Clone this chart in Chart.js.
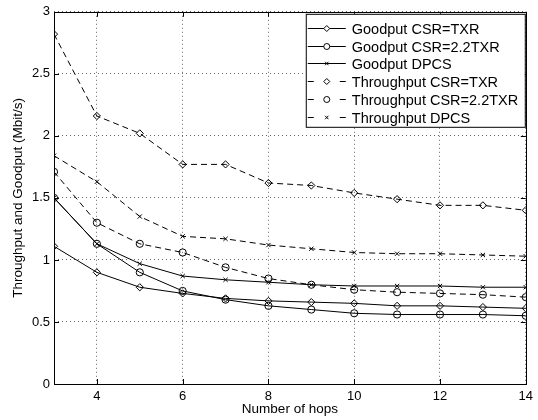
<!DOCTYPE html>
<html>
<head>
    <title>Throughput and Goodput vs hops</title>
    <script src="https://cdn.jsdelivr.net/npm/chart.js@4.4.1/dist/chart.umd.min.js"></script>
    <style>
        body { margin: 0; background: #fff; }
        canvas { display: block; }
    </style>
</head>
<body>
    <canvas id="hopsChart" width="538" height="420"></canvas>

    <script>
        const hops = [3, 4, 5, 6, 7, 8, 9, 10, 11, 12, 13, 14];
        const xTicks = [4, 6, 8, 10, 12, 14];
        const yTicks = [0, 0.5, 1, 1.5, 2, 2.5, 3];

        const goodputTxr   = [1.11, 0.90, 0.78, 0.73, 0.69, 0.67, 0.66, 0.65, 0.63, 0.63, 0.62, 0.61];
        const goodput22Txr = [1.50, 1.13, 0.90, 0.75, 0.68, 0.63, 0.60, 0.57, 0.56, 0.56, 0.56, 0.55];
        const goodputDpcs  = [1.50, 1.13, 0.97, 0.87, 0.84, 0.82, 0.80, 0.79, 0.79, 0.79, 0.78, 0.78];
        const thrTxr       = [2.82, 2.16, 2.02, 1.77, 1.77, 1.62, 1.60, 1.54, 1.49, 1.44, 1.44, 1.40];
        const thr22Txr     = [1.71, 1.30, 1.13, 1.06, 0.94, 0.85, 0.80, 0.76, 0.74, 0.73, 0.72, 0.70];
        const thrDpcs      = [1.84, 1.63, 1.35, 1.19, 1.17, 1.12, 1.09, 1.06, 1.05, 1.05, 1.04, 1.03];

        const FONT = '"Liberation Sans", Arial, sans-serif';
        const DASH = [6, 4];

        function series(label, values, marker, dashed) {
            return {
                label: label,
                data: hops.map((h, i) => ({ x: h, y: values[i] })),
                borderColor: '#000',
                borderWidth: 1,
                borderDash: dashed ? DASH : [],
                pointStyle: marker,
                pointRadius: marker === 'crossRot' ? 3 : 3.6,
                pointBorderWidth: 1,
                pointBorderColor: '#000',
                pointBackgroundColor: 'rgba(0,0,0,0)',
                tension: 0
            };
        }

        // axes box with inward tick marks
        const boxPlugin = {
            id: 'box',
            afterDatasetsDraw(chart) {
                const { ctx, chartArea: a, scales } = chart;
                ctx.save();
                ctx.strokeStyle = '#000';
                ctx.lineWidth = 1;
                ctx.beginPath();
                xTicks.forEach(v => {
                    const px = Math.round(scales.x.getPixelForValue(v)) + 0.5;
                    ctx.moveTo(px, a.bottom); ctx.lineTo(px, a.bottom - 5);
                    ctx.moveTo(px, a.top); ctx.lineTo(px, a.top + 5);
                });
                yTicks.forEach(v => {
                    const py = Math.round(scales.y.getPixelForValue(v)) + 0.5;
                    ctx.moveTo(a.left, py); ctx.lineTo(a.left + 5, py);
                    ctx.moveTo(a.right, py); ctx.lineTo(a.right - 5, py);
                });
                ctx.stroke();
                ctx.strokeRect(Math.round(a.left) + 0.5, Math.round(a.top) + 0.5,
                    Math.round(a.right - a.left), Math.round(a.bottom - a.top));
                ctx.restore();
            }
        };

        // MATLAB-like legend box in the upper right corner
        const legendPlugin = {
            id: 'boxLegend',
            afterDraw(chart) {
                const { ctx, chartArea: a } = chart;
                const sets = chart.data.datasets;
                const right = a.right - 1, top = a.top + 2;
                const left = right - 219, rowH = 17.8;
                const height = 113;
                ctx.save();
                ctx.fillStyle = '#fff';
                ctx.fillRect(left, top, right - left, height);
                ctx.strokeStyle = '#000';
                ctx.lineWidth = 1;
                ctx.strokeRect(left + 0.5, top + 0.5, right - left, height);
                ctx.font = '14.5px ' + FONT;
                ctx.textBaseline = 'middle';
                sets.forEach((ds, i) => {
                    const cy = Math.round(top + 14 + i * rowH) + 0.5;
                    const x0 = left + 2, x1 = left + 40, xm = (x0 + x1) / 2;
                    ctx.beginPath();
                    if (ds.borderDash.length) {
                        ctx.moveTo(x0, cy); ctx.lineTo(x0 + ds.borderDash[0], cy);
                        ctx.moveTo(x1 - ds.borderDash[0], cy); ctx.lineTo(x1, cy);
                    } else {
                        ctx.moveTo(x0, cy); ctx.lineTo(x1, cy);
                    }
                    ctx.stroke();
                    ctx.fillStyle = '#fff';
                    Chart.helpers.drawPoint(ctx, {
                        pointStyle: ds.pointStyle, radius: ds.pointRadius - 0.6,
                        borderWidth: 1, rotation: 0
                    }, xm, cy);
                    ctx.fillStyle = '#000';
                    ctx.fillText(ds.label, left + 46, cy + 1);
                });
                ctx.restore();
            }
        };

        new Chart(document.getElementById('hopsChart'), {
            type: 'line',
            data: {
                datasets: [
                    series('Goodput CSR=TXR', goodputTxr, 'rectRot', false),
                    series('Goodput CSR=2.2TXR', goodput22Txr, 'circle', false),
                    series('Goodput DPCS', goodputDpcs, 'crossRot', false),
                    series('Throughput CSR=TXR', thrTxr, 'rectRot', true),
                    series('Throughput CSR=2.2TXR', thr22Txr, 'circle', true),
                    series('Throughput DPCS', thrDpcs, 'crossRot', true)
                ]
            },
            options: {
                responsive: false,
                animation: false,
                layout: { padding: { top: 11, right: 9, left: 0, bottom: 0 } },
                plugins: {
                    legend: { display: false },
                    tooltip: { enabled: false }
                },
                scales: {
                    x: {
                        type: 'linear',
                        min: 3,
                        max: 14,
                        afterBuildTicks: s => { s.ticks = xTicks.map(v => ({ value: v })); },
                        afterFit: s => { s.height = 36; },
                        border: { display: false, dash: [1, 3] },
                        grid: { color: 'rgba(0,0,0,0.6)', drawTicks: false },
                        ticks: { color: '#000', padding: 5, maxRotation: 0, font: { family: FONT, size: 13 } },
                        title: {
                            display: true, text: 'Number of hops', color: '#000',
                            padding: { top: 0, bottom: 3 }, font: { family: FONT, size: 13.5 }
                        }
                    },
                    y: {
                        min: 0,
                        max: 3,
                        afterBuildTicks: s => { s.ticks = yTicks.map(v => ({ value: v })); },
                        afterFit: s => { s.width = 54; },
                        border: { display: false, dash: [1, 3] },
                        grid: { color: 'rgba(0,0,0,0.6)', drawTicks: false },
                        ticks: {
                            color: '#000', padding: 4, font: { family: FONT, size: 13 },
                            callback: v => String(v)
                        },
                        title: {
                            display: true, text: 'Throughput and Goodput (Mbit/s)', color: '#000',
                            padding: { top: 10, bottom: 0 }, font: { family: FONT, size: 13.5 }
                        }
                    }
                }
            },
            plugins: [boxPlugin, legendPlugin]
        });
    </script>
</body>
</html>
